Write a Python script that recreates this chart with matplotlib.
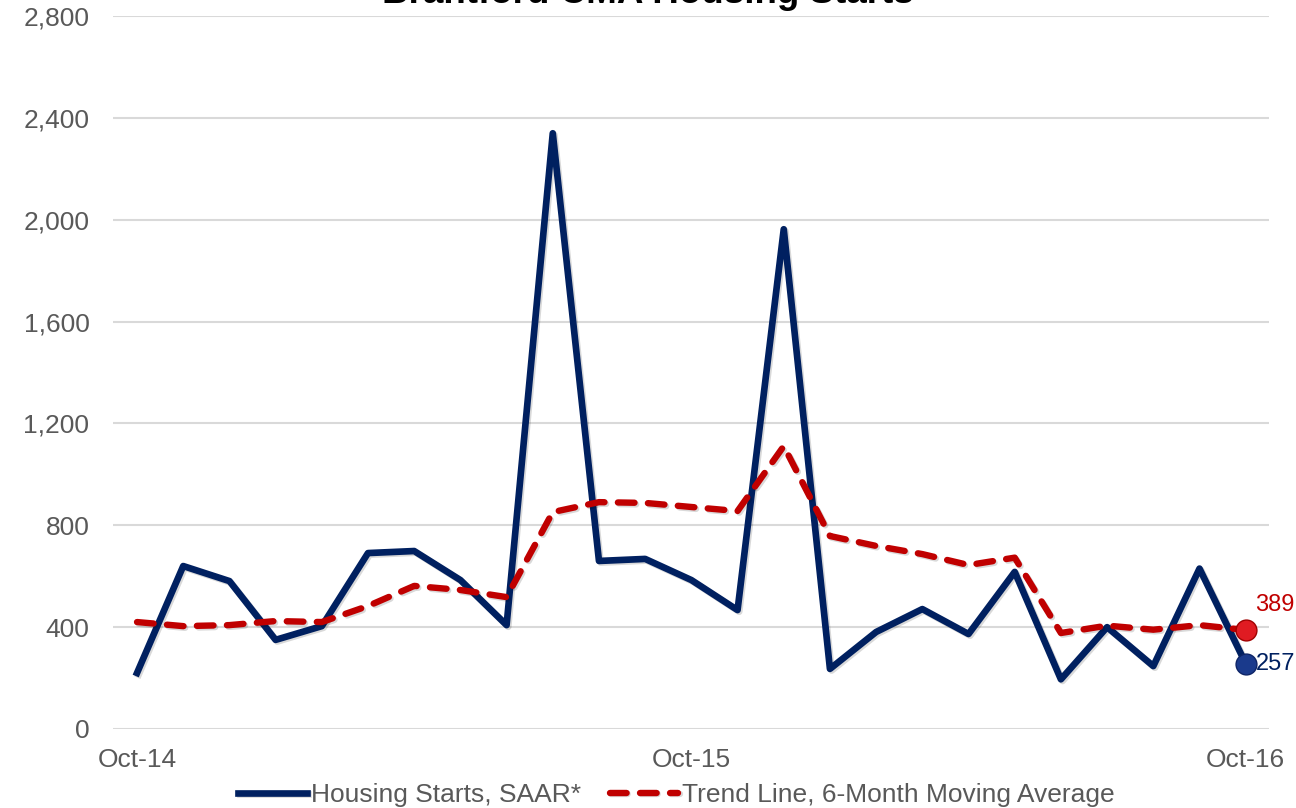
import matplotlib.pyplot as plt
import matplotlib.patheffects as pe
import numpy as np

plt.rcParams['font.family'] = ['Liberation Sans', 'DejaVu Sans']

# monthly data Oct-14 .. Oct-16
months = ['Oct-14', 'Nov-14', 'Dec-14', 'Jan-15', 'Feb-15', 'Mar-15', 'Apr-15',
          'May-15', 'Jun-15', 'Jul-15', 'Aug-15', 'Sep-15', 'Oct-15', 'Nov-15',
          'Dec-15', 'Jan-16', 'Feb-16', 'Mar-16', 'Apr-16', 'May-16', 'Jun-16',
          'Jul-16', 'Aug-16', 'Sep-16', 'Oct-16']
starts = [220, 640, 581, 350, 404, 691, 699, 585, 408, 2340, 660, 668, 585, 467,
          1963, 236, 381, 471, 373, 617, 195, 400, 247, 630, 257]
trend = [420, 404, 408, 424, 420, 483, 562, 546, 518, 852, 891, 888, 872, 856,
         1111, 758, 719, 687, 644, 673, 377, 406, 390, 408, 389]
shown_ticks = ['Oct-14', 'Oct-15', 'Oct-16']

navy = '#002060'
red = '#c00000'
grey = '#595959'

fig = plt.figure(figsize=(12.96, 8.08), dpi=100)
ax = fig.add_axes([0.0872, 0.0978, 0.979 - 0.0872, 0.980 - 0.0978])

shadow = [pe.SimpleLineShadow(offset=(1.2, -1.2), alpha=0.15), pe.Normal()]
x = np.arange(len(months))
l1, = ax.plot(x, starts, color=navy, lw=4.8, solid_joinstyle='round', zorder=3,
              label='Housing Starts, SAAR*', path_effects=shadow)
l2, = ax.plot(x, trend, color=red, lw=4.6, dashes=(2.6, 2.1), dash_capstyle='round',
              dash_joinstyle='round', zorder=4, label='Trend Line, 6-Month Moving Average',
              path_effects=shadow)

# end markers + labels
ax.plot(x[-1], starts[-1], 'o', ms=15, color='#1a3a8c', mec='#0d2466', mew=1, zorder=5)
ax.plot(x[-1], trend[-1], 'o', ms=15, color='#e01b22', mec='#a00000', mew=1, zorder=6)
ax.annotate(f'{trend[-1]}', (x[-1], trend[-1]), xytext=(7, 18), textcoords='offset points',
            color=red, fontsize=17, ha='left', va='center')
ax.annotate(f'{starts[-1]}', (x[-1], starts[-1]), xytext=(7, 0), textcoords='offset points',
            color=navy, fontsize=17, ha='left', va='center')

ax.set_xlim(-0.52, 24.5)
ax.set_ylim(0, 2800)
ax.set_yticks(range(0, 2801, 400))
ax.yaxis.set_major_formatter(plt.FuncFormatter(lambda v, p: f'{int(v):,}'))
ticks = [months.index(m) for m in shown_ticks]
ax.set_xticks(ticks)
ax.set_xticklabels(shown_ticks)
ax.tick_params(axis='both', length=0, labelsize=19, colors=grey)
ax.tick_params(axis='y', pad=17)
ax.tick_params(axis='x', pad=14)
ax.grid(axis='y', color='#d9d9d9', lw=1.5)
ax.set_axisbelow(True)
for s in ax.spines.values():
    s.set_visible(False)

# title sits mostly above the top edge, as in the source image
fig.text(0.5, 1 - 3 / 808, 'Brantford CMA Housing Starts', ha='center', va='baseline',
         fontsize=26.5, fontweight='bold', color='black')

leg = fig.legend(handles=[l1, l2], loc='center', bbox_to_anchor=(0.522, 1 - 795 / 808),
                 ncol=2, frameon=False, fontsize=19, handlelength=2.6,
                 handletextpad=0.15, columnspacing=1.1, borderpad=0)
for t in leg.get_texts():
    t.set_color(grey)

fig.savefig('out.png', dpi=100)
